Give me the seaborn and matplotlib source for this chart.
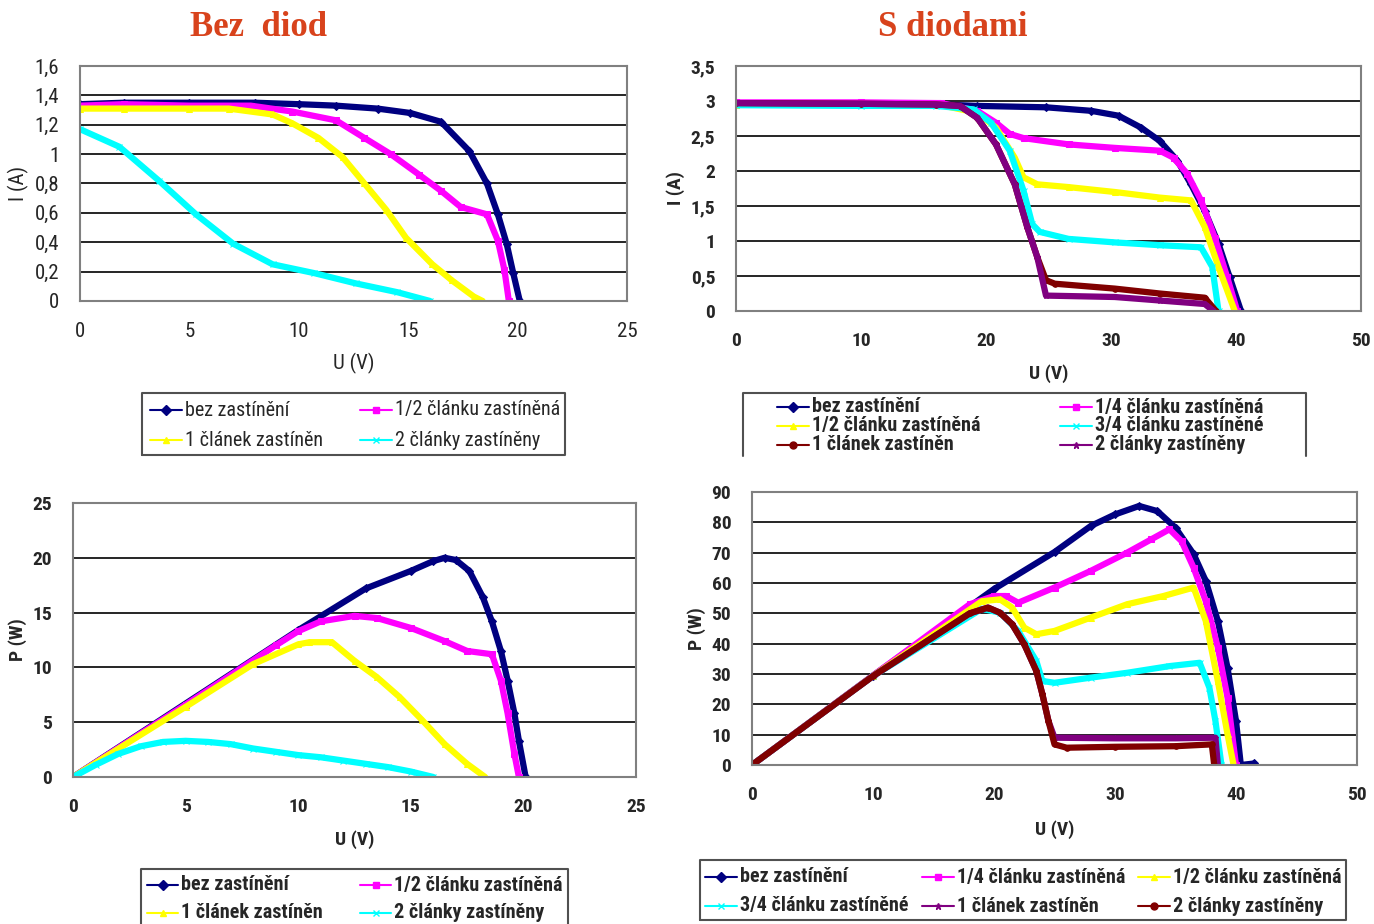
import matplotlib
matplotlib.use("Agg")
import matplotlib.pyplot as plt
from matplotlib.lines import Line2D
from matplotlib import font_manager as fm
import seaborn as sns
import pandas as pd

# ---- data (Bez diod, I-V) ----
bl_iv_bez_u = [0, 2, 5, 8, 10, 11.7, 13.6, 15.1, 16.5, 17.8, 18.6, 19.1, 19.5, 19.8, 20.1]
bl_iv_bez_i = [1.34, 1.35, 1.35, 1.35, 1.34, 1.33, 1.31, 1.28, 1.22, 1.02, 0.80, 0.59, 0.39, 0.19, 0.0]
bl_iv_pol_u = [0, 2, 5, 7.8, 9.7, 11.7, 13.0, 14.2, 15.5, 16.5, 17.4, 18.6, 19.1, 19.4, 19.6]
bl_iv_pol_i = [1.33, 1.34, 1.33, 1.33, 1.29, 1.23, 1.11, 1.0, 0.86, 0.75, 0.64, 0.59, 0.41, 0.21, 0.0]
bl_iv_one_u = [0, 2, 5, 6.8, 8.8, 9.7, 10.9, 12.0, 13.0, 14.0, 14.9, 16.1, 17.0, 18.0, 18.4]
bl_iv_one_i = [1.31, 1.31, 1.31, 1.31, 1.27, 1.21, 1.11, 0.98, 0.80, 0.62, 0.43, 0.25, 0.14, 0.03, 0.0]
bl_iv_two_u = [0, 1.8, 3.6, 5.3, 7.0, 8.8, 10.7, 12.6, 14.5, 16.0]
bl_iv_two_i = [1.17, 1.05, 0.82, 0.59, 0.39, 0.25, 0.19, 0.12, 0.06, 0.0]

# ---- S diodami, I-V ----
sd_iv_bez_u = [0, 10, 15, 19.3, 24.8, 28.4, 30.6, 32.4, 33.9, 35.3, 36.4, 37.5, 38.6, 39.5, 40.4]
sd_iv_bez_i = [2.97, 2.96, 2.96, 2.93, 2.91, 2.86, 2.79, 2.62, 2.43, 2.15, 1.81, 1.43, 0.96, 0.48, 0.0]
sd_iv_q1_u = [0, 10, 16.4, 19.3, 20.8, 21.9, 23.0, 26.6, 30.3, 33.9, 35.0, 36.1, 37.2, 38.3, 39.3, 40.1]
sd_iv_q1_i = [2.98, 2.98, 2.97, 2.86, 2.69, 2.53, 2.47, 2.38, 2.33, 2.29, 2.19, 1.96, 1.58, 1.05, 0.48, 0.0]
sd_iv_q2_u = [0, 10, 16.4, 19.3, 20.8, 22.3, 23.0, 24.1, 26.6, 30.3, 33.9, 36.4, 37.5, 38.6, 39.9]
sd_iv_q2_i = [2.95, 2.95, 2.94, 2.83, 2.62, 2.19, 1.91, 1.81, 1.77, 1.70, 1.62, 1.58, 1.20, 0.63, 0.0]
sd_iv_q3_u = [0, 10, 16, 19.0, 20.4, 21.9, 23.0, 23.7, 24.3, 26.6, 30.3, 33.9, 37.2, 38.1, 38.6]
sd_iv_q3_i = [2.94, 2.93, 2.93, 2.88, 2.69, 2.29, 1.72, 1.24, 1.13, 1.03, 0.98, 0.94, 0.91, 0.63, 0.0]
sd_iv_one_u = [0, 10, 16, 17.9, 19.3, 20.8, 22.3, 23.3, 24.1, 24.8, 25.5, 30.3, 33.9, 37.5, 38.4]
sd_iv_one_i = [2.97, 2.96, 2.95, 2.93, 2.76, 2.38, 1.81, 1.20, 0.77, 0.44, 0.39, 0.32, 0.25, 0.19, 0.0]
sd_iv_two_u = [0, 10, 16, 17.9, 19.3, 20.8, 22.3, 23.3, 24.1, 24.8, 30.3, 33.9, 37.5, 38.2]
sd_iv_two_i = [2.97, 2.96, 2.95, 2.93, 2.76, 2.38, 1.81, 1.20, 0.77, 0.22, 0.20, 0.15, 0.10, 0.0]

# ---- Bez diod, P-V ----
bl_pv_bez_u = [0, 5, 10, 13, 15, 16, 16.5, 17, 17.6, 18.2, 18.6, 19.0, 19.3, 19.6, 19.8, 20.1]
bl_pv_bez_p = [0, 6.7, 13.4, 17.2, 18.8, 19.7, 20.0, 19.8, 18.8, 16.4, 14.2, 11.5, 8.8, 5.8, 3.3, 0.0]
bl_pv_pol_u = [0, 5, 9, 10, 11, 12.5, 13.5, 15, 16.5, 17.5, 18.6, 19.0, 19.3, 19.6, 19.8]
bl_pv_pol_p = [0, 6.6, 12.0, 13.3, 14.2, 14.7, 14.5, 13.6, 12.4, 11.5, 11.2, 8.8, 5.8, 2.1, 0.0]
bl_pv_one_u = [0, 5, 8, 10, 10.5, 11.5, 12.5, 13.5, 14.5, 15.5, 16.5, 17.5, 18.3]
bl_pv_one_p = [0, 6.4, 10.3, 12.1, 12.3, 12.3, 10.6, 9.1, 7.3, 5.2, 3.0, 1.2, 0.0]
bl_pv_two_u = [0, 1, 2, 3, 4, 5, 6, 7, 8, 9, 10, 11, 12, 13, 14, 15, 16]
bl_pv_two_p = [0, 1.1, 2.1, 2.8, 3.2, 3.3, 3.2, 3.0, 2.6, 2.3, 2.0, 1.8, 1.5, 1.2, 0.9, 0.5, 0.0]

# ---- S diodami, P-V ----
sd_pv_bez_u = [0, 10, 20, 25, 28, 30, 32, 33.5, 35, 36.5, 37.5, 38.5, 39.3, 40, 40.4, 41.5]
sd_pv_bez_p = [0, 29.5, 58, 70.2, 78.8, 82.6, 85.4, 83.7, 78.2, 69.5, 60.7, 47.5, 32, 14.5, 0, 0.5]
sd_pv_q1_u = [0, 10, 18, 20, 21, 22, 25, 28, 31, 33, 34.5, 35.5, 36.5, 37.5, 38.5, 39.3, 40]
sd_pv_q1_p = [0, 29.5, 53, 55.7, 55.7, 53.5, 58.5, 64, 70, 74.4, 77.7, 73.8, 65, 54, 38.7, 22.2, 0]
sd_pv_q2_u = [0, 10, 19, 20.5, 21.5, 22.5, 23.5, 25, 28, 31, 34, 36.5, 37.5, 38.5, 39.3, 39.8]
sd_pv_q2_p = [0, 29.4, 54, 54.6, 51.9, 45.3, 43.1, 44.2, 48.6, 53, 55.7, 58.5, 47.5, 27.7, 10.1, 0]
sd_pv_q3_u = [0, 10, 19, 20.5, 22, 23.5, 24, 25, 28, 31, 34.5, 37, 37.8, 38.3, 38.8]
sd_pv_q3_p = [0, 29.3, 51.5, 50.2, 44.2, 34.3, 27.7, 27.1, 28.8, 30.4, 32.6, 33.7, 25.5, 14.5, 0]
sd_pv_one_u = [0, 10, 18, 19.5, 20.5, 21.5, 22.5, 23.5, 24, 24.5, 25, 30, 35, 38.3, 38.5]
sd_pv_one_p = [0, 29.3, 50, 51.9, 50.2, 46.4, 39.8, 31, 23.3, 14.5, 9.0, 8.8, 8.8, 9.0, 0]
sd_pv_two_u = [0, 10, 18, 19.5, 20.5, 21.5, 22.5, 23.5, 24, 24.5, 25, 26, 30, 35, 38, 38.2]
sd_pv_two_p = [0, 29.3, 50, 51.9, 50.2, 46.4, 39.8, 31, 23.3, 14.5, 6.8, 5.7, 6.0, 6.2, 6.8, 0]

NAVY, MAG, YEL, CYAN, MAROON, PURPLE = "#000080", "#FF00FF", "#FFFF00", "#00FFFF", "#800000", "#800080"

L_BEZ = "bez zastínění"
L_Q1 = "1/4 článku zastíněná"
L_Q2 = "1/2 článku zastíněná"
L_Q3 = "3/4 článku zastíněné"
L_ONE = "1 článek zastíněn"
L_TWO = "2 články zastíněny"

sns.set_theme(style="white")
installed = {f.name for f in fm.fontManager.ttflist}
narrow = [f for f in ["Liberation Sans Narrow", "Arial Narrow", "Roboto Condensed",
                      "Asap Condensed"] if f in installed]
plt.rcParams["font.family"] = narrow[:1] + ["Liberation Sans", "DejaVu Sans"]

W, H = 1374, 924
fig = plt.figure(figsize=(W / 100, H / 100), dpi=100)


def px_axes(x0, y0, x1, y1):
    return fig.add_axes([x0 / W, 1 - y1 / H, (x1 - x0) / W, (y1 - y0) / H])


def draw(ax, u, v, color, marker):
    df = pd.DataFrame({"u": u, "v": v})
    sns.lineplot(data=df, x="u", y="v", ax=ax, color=color, linewidth=4.5,
                 marker=marker, markersize=4, markeredgecolor=color,
                 sort=False, estimator=None, legend=False)


def style_axes(ax, xmax, xstep, ymax, ystep, yfmt, bold, size, xlabel, ylabel, lpad):
    weight = "bold" if bold else "normal"
    ax.set_xlim(0, xmax)
    ax.set_ylim(0, ymax)
    xt = [i * xstep for i in range(int(round(xmax / xstep)) + 1)]
    yt = [i * ystep for i in range(int(round(ymax / ystep)) + 1)]
    ax.set_xticks(xt)
    ax.set_yticks(yt)
    ax.set_xticklabels([f"{t:g}" for t in xt], fontsize=size, fontweight=weight)
    ax.set_yticklabels([yfmt(t) for t in yt], fontsize=size, fontweight=weight)
    ax.yaxis.grid(True, color="black", linewidth=1.2)
    ax.xaxis.grid(False)
    for s in ax.spines.values():
        s.set_color("#808080")
        s.set_linewidth(1.5)
    ax.tick_params(axis="both", direction="out", length=5, width=1.2, color="#808080",
                   pad=10)
    ax.set_xlabel(xlabel, fontsize=size, fontweight=weight, labelpad=lpad)
    ax.set_ylabel(ylabel, fontsize=size, fontweight=weight, labelpad=4)


def comma(t):
    s = f"{t:.1f}".rstrip("0").rstrip(".")
    return s.replace(".", ",")


# top-left: Bez diod I-V
ax1 = px_axes(80, 66, 627, 301)
draw(ax1, bl_iv_bez_u, bl_iv_bez_i, NAVY, "D")
draw(ax1, bl_iv_pol_u, bl_iv_pol_i, MAG, "s")
draw(ax1, bl_iv_one_u, bl_iv_one_i, YEL, "^")
draw(ax1, bl_iv_two_u, bl_iv_two_i, CYAN, "x")
style_axes(ax1, 25, 5, 1.6, 0.2, comma, False, 15, "U (V)", "I (A)", 9)

# top-right: S diodami I-V
ax2 = px_axes(736, 66, 1361, 311)
draw(ax2, sd_iv_bez_u, sd_iv_bez_i, NAVY, "D")
draw(ax2, sd_iv_q1_u, sd_iv_q1_i, MAG, "s")
draw(ax2, sd_iv_q2_u, sd_iv_q2_i, YEL, "^")
draw(ax2, sd_iv_q3_u, sd_iv_q3_i, CYAN, "x")
draw(ax2, sd_iv_one_u, sd_iv_one_i, MAROON, "o")
draw(ax2, sd_iv_two_u, sd_iv_two_i, PURPLE, "*")
style_axes(ax2, 50, 10, 3.5, 0.5, comma, True, 14, "U (V)", "I (A)", 10)

# bottom-left: Bez diod P-V
ax3 = px_axes(73, 503, 636, 777)
draw(ax3, bl_pv_bez_u, bl_pv_bez_p, NAVY, "D")
draw(ax3, bl_pv_pol_u, bl_pv_pol_p, MAG, "s")
draw(ax3, bl_pv_one_u, bl_pv_one_p, YEL, "^")
draw(ax3, bl_pv_two_u, bl_pv_two_p, CYAN, "x")
style_axes(ax3, 25, 5, 25, 5, lambda t: f"{t:g}", True, 14, "U (V)", "P (W)", 10)

# bottom-right: S diodami P-V
ax4 = px_axes(752, 492, 1357, 765)
draw(ax4, sd_pv_bez_u, sd_pv_bez_p, NAVY, "D")
draw(ax4, sd_pv_q1_u, sd_pv_q1_p, MAG, "s")
draw(ax4, sd_pv_q2_u, sd_pv_q2_p, YEL, "^")
draw(ax4, sd_pv_q3_u, sd_pv_q3_p, CYAN, "x")
draw(ax4, sd_pv_one_u, sd_pv_one_p, PURPLE, "*")
draw(ax4, sd_pv_two_u, sd_pv_two_p, MAROON, "o")
style_axes(ax4, 50, 10, 90, 10, lambda t: f"{t:g}", True, 14, "U (V)", "P (W)", 12)

# titles
title_kw = dict(fontsize=25, fontweight="bold", color="#D8431C",
                family=["Liberation Serif", "DejaVu Serif"], ha="center", va="center")
fig.text(258 / W, 1 - 28 / H, "Bez  diod", **title_kw)
fig.text(953 / W, 1 - 28 / H, "S diodami", **title_kw)


def legend_box(x0, y0, x1, y1, bottom=True):
    xs = [x0, x0, x1, x1] + ([x0] if bottom else [])
    ys = [y1, y0, y0, y1] + ([y1] if bottom else [])
    fig.add_artist(Line2D([x / W for x in xs], [1 - y / H for y in ys],
                          transform=fig.transFigure, color="#505050", linewidth=1.5))


def legend_entry(hx, y, color, marker, label, bold, size, hlen=32):
    fig.add_artist(Line2D([hx / W, (hx + hlen) / W], [1 - y / H, 1 - y / H],
                          transform=fig.transFigure, color=color, linewidth=1.5))
    fig.add_artist(Line2D([(hx + hlen / 2) / W], [1 - y / H], transform=fig.transFigure,
                          color=color, marker=marker, markersize=5, markeredgecolor=color))
    fig.text((hx + hlen + 3) / W, 1 - y / H, label, fontsize=size, va="center",
             ha="left", fontweight="bold" if bold else "normal")


# top-left legend
legend_box(142, 393, 565, 455)
for hx, y, c, m, lab in [(150, 410, NAVY, "D", L_BEZ), (150, 440, YEL, "^", L_ONE),
                         (360, 410, MAG, "s", L_Q2), (360, 440, CYAN, "x", L_TWO)]:
    legend_entry(hx, y, c, m, lab, False, 14.5)

# top-right legend (bottom edge hidden under the lower chart in the original)
legend_box(743, 393, 1306, 456, bottom=False)
for hx, y, c, m, lab in [(777, 407, NAVY, "D", L_BEZ), (777, 426, YEL, "^", L_Q2),
                         (777, 445, MAROON, "o", L_ONE), (1060, 407, MAG, "s", L_Q1),
                         (1060, 426, CYAN, "x", L_Q3), (1060, 445, PURPLE, "*", L_TWO)]:
    legend_entry(hx, y, c, m, lab, True, 14.5)

# bottom-left legend
legend_box(141, 869, 568, 935)
for hx, y, c, m, lab in [(147, 885, NAVY, "D", L_BEZ), (147, 913, YEL, "^", L_ONE),
                         (360, 885, MAG, "s", L_Q2), (360, 913, CYAN, "x", L_TWO)]:
    legend_entry(hx, y, c, m, lab, True, 14.5, hlen=31)

# bottom-right legend
legend_box(700, 860, 1346, 920)
for hx, y, c, m, lab in [(705, 877, NAVY, "D", L_BEZ), (705, 906, CYAN, "x", L_Q3),
                         (922, 877, MAG, "s", L_Q1), (922, 906, PURPLE, "*", L_ONE),
                         (1138, 877, YEL, "^", L_Q2), (1138, 906, MAROON, "o", L_TWO)]:
    legend_entry(hx, y, c, m, lab, True, 14.5)

fig.savefig("out.png", dpi=100, facecolor="white")
